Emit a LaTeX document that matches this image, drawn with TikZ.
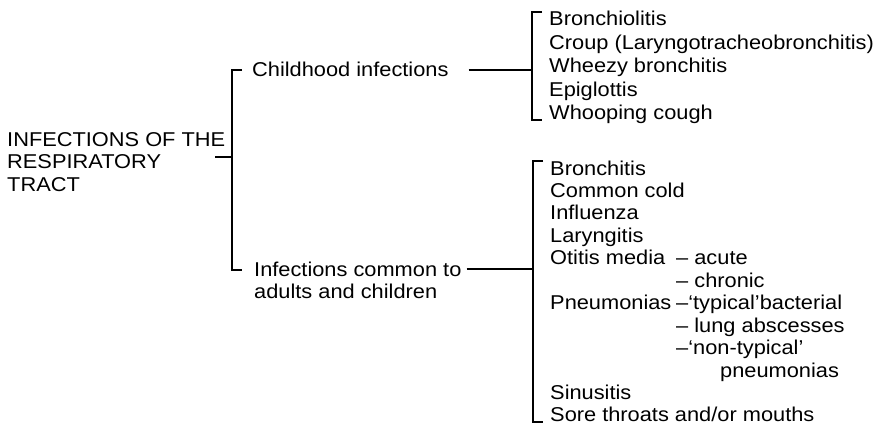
\documentclass[tikz,border=0pt]{standalone}
\usepackage{fontspec}
\setmainfont{Liberation Sans}[FakeStretch=1.09]
\usetikzlibrary{positioning}
\begin{document}
\begin{tikzpicture}[x=1pt, y=-1pt,
        every node/.style={inner sep=0pt, font=\fontsize{20}{22.5}\selectfont},
        entry/.style={anchor=base west},
        bracket/.style={line width=1.7pt}]
        \useasboundingbox (0,0) rectangle (882,425);

        % Root label and the two groups
        \node[anchor=north west, align=left] (root) at (7,132) {INFECTIONS OF THE\\RESPIRATORY\\TRACT};
        \node[entry] (child) at (252,77) {Childhood infections};
        \node[entry] (common) at (254,276) {Infections common to};
        \node[entry] (common2) at (254,298.5) {adults and children};

        % Bracket points
        \coordinate (b0top) at (232,70);
        \coordinate (b0mid) at (232,157);
        \coordinate (b0bot) at (232,270);
        \coordinate (b1top) at (532,12);
        \coordinate (b1bot) at (532,120);
        \coordinate (b2top) at (533,161);
        \coordinate (b2bot) at (533,422);

        % Childhood infections
        \foreach \txt [count=\i] in {Bronchiolitis, {Croup (Laryngotracheobronchitis)}, Wheezy bronchitis, Epiglottis, Whooping cough}
            \node[entry] (up\i) at (549, 2.5+23.5*\i) {\txt};

        % Infections common to adults and children
        \foreach \row/\txt in {0/Bronchitis, 1/Common cold, 2/Influenza, 3/Laryngitis, 4/Otitis media, 6/Pneumonias, 10/Sinusitis, 11/{Sore throats and/or mouths}}
            \node[entry] (low\row) at (550, 175+22.45*\row) {\txt};
        \foreach \row/\txt in {4/{– acute}, 5/{– chronic}, 6/{–‘typical’bacterial}, 7/{– lung abscesses}, 8/{–‘non-typical’}}
            \node[entry] (sub\row) at (676, 175+22.45*\row) {\txt};
        \node[entry] (sub9) at (720, 175+22.45*9) {pneumonias};

        % Brackets and connectors
        \draw[bracket] ([xshift=10]b0top) -- (b0top) -- (b0bot) -- ++(10,0);
        \draw[bracket] (b0mid) -- ++(-17,0);
        \draw[bracket] ([xshift=10]b1top) -- (b1top) -- (b1bot) -- ++(10,0);
        \draw[bracket] ([xshift=10]b2top) -- (b2top) -- (b2bot) -- ++(10,0);
        \draw[bracket] ([xshift=20]child.east) -- (child.east -| b1top);
        \draw[bracket] ([xshift=5]common.east) -- (common.east -| b2top);
    \end{tikzpicture}
\end{document}
